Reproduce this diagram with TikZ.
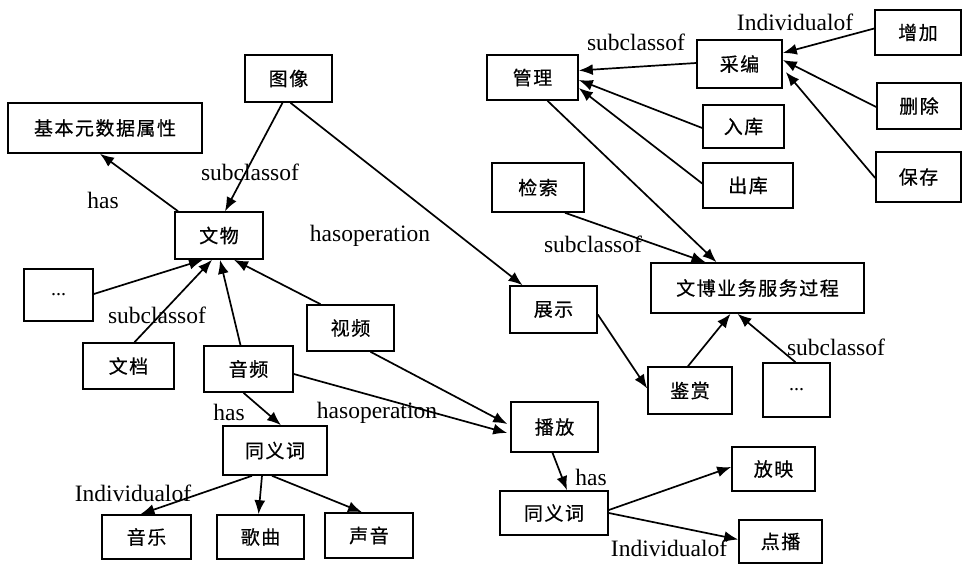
\documentclass[tikz,border=0pt]{standalone}
\usepackage{fontspec}
\setmainfont{Liberation Serif}
\newfontfamily\cjk[LetterSpace=8,FakeBold=0.5]{Noto Sans CJK SC}
\usetikzlibrary{arrows.meta,calc}
\tikzset{
  box/.style={draw, line width=1.6pt, inner sep=0pt, font=\cjk\fontsize{19}{21}\selectfont},
  lbl/.style={font=\fontsize{23.5}{26}\selectfont, inner sep=0pt},
  arr/.style={line width=1.7pt, -{Latex[length=14pt,width=11pt]}},
}
\newcommand{\bx}[6]{\node[box, minimum width=#4pt, minimum height=#5pt] (#1) at (#2,#3) {#6};}
\begin{document}
\begin{tikzpicture}[x=1pt,y=-1pt]
\useasboundingbox (0,0) rectangle (963,565);
% nodes
\bx{jiben}{105}{128}{194}{50}{基本元数据属性}
\bx{tuxiang}{288.5}{78.5}{87}{47}{图像}
\bx{wenwu}{219}{235.5}{88}{47}{文物}
\bx{dotsL}{58.5}{295}{69}{52}{\rmfamily\fontsize{20}{22}\selectfont ...}
\bx{wendang}{128.5}{366}{91}{46}{文档}
\bx{yinpin}{248.5}{369}{89}{46}{音频}
\bx{shipin}{350.5}{328}{87}{46}{视频}
\bx{tyca}{275}{450.5}{104}{49}{同义词}
\bx{yinyue}{146.5}{537}{89}{44}{音乐}
\bx{gequ}{260.5}{537}{87}{44}{歌曲}
\bx{shengyin}{369}{535.5}{88}{45}{声音}
\bx{zhanshi}{553.5}{309.5}{87}{47}{展示}
\bx{bofang}{554.5}{427}{87}{50}{播放}
\bx{tycb}{554}{513}{108}{44}{同义词}
\bx{wenbo}{757.5}{288}{213}{50}{文博业务服务过程}
\bx{jianshang}{690}{390.5}{84}{47}{鉴赏}
\bx{dotsR}{796.5}{390}{67}{54}{\rmfamily\fontsize{20}{22}\selectfont ...}
\bx{fangying}{773.5}{469}{83}{44}{放映}
\bx{dianbo}{780.5}{541.5}{83}{43}{点播}
\bx{guanli}{532.5}{77.5}{91}{45}{管理}
\bx{jiansuo}{538}{187.5}{92}{49}{检索}
\bx{caibian}{739.5}{64}{85}{48}{采编}
\bx{ruku}{743.5}{126.5}{81}{43}{入库}
\bx{chuku}{748}{185.5}{90}{45}{出库}
\bx{zengjia}{918}{32.5}{86}{45}{增加}
\bx{shanchu}{919}{106}{84}{46}{删除}
\bx{baocun}{918.5}{177}{85}{50}{保存}
% labels
\node[lbl] (l1) at (103,200) {has};
\node[lbl] (l2) at (250,172) {subclassof};
\node[lbl] (l3) at (370,236) {hasoperation};
\node[lbl] (l4) at (157,315) {subclassof};
\node[lbl] (l5) at (229,412) {has};
\node[lbl] (l6) at (377,413) {hasoperation};
\node[lbl] (l7) at (133,493) {Individualof};
\node[lbl] (l8) at (591,477) {has};
\node[lbl] (l9) at (669,548) {Individualof};
\node[lbl] (l10) at (836,347) {subclassof};
\node[lbl] (l11) at (593,244) {subclassof};
\node[lbl] (l12) at (636,42) {subclassof};
\node[lbl] (l13) at (795,22) {Individualof};
% edges
\draw[arr] ($(wenwu.north)+(-41,0)$) -- ($(jiben.south)+(-5,0)$);
\draw[arr] ($(tuxiang.south)+(-6,0)$) -- ($(wenwu.north)+(6,0)$);
\draw[arr] ($(tuxiang.south)+(2,0)$) -- ($(zhanshi.north)+(-31,0)$);
\draw[arr] ($(dotsL.east)+(0,-1)$) -- ($(wenwu.south)+(-16,0)$);
\draw[arr] ($(wendang.north)+(6,0)$) -- ($(wenwu.south)+(-7,0)$);
\draw[arr] ($(yinpin.north)+(-8,0)$) -- ($(wenwu.south)+(1,0)$);
\draw[arr] ($(shipin.north)+(-30,0)$) -- ($(wenwu.south)+(15,0)$);
\draw[arr] ($(yinpin.south)+(-5,0)$) -- ($(tyca.north)+(6,0)$);
\draw[arr] ($(yinpin.east)+(0,5)$) -- ($(bofang.west)+(-3,6)$);
\draw[arr] ($(shipin.south)+(20,0)$) -- ($(bofang.west)+(-3,-3)$);
\draw[arr] ($(tyca.south)+(-23,0)$) -- ($(yinyue.north)+(-6,0)$);
\draw[arr] ($(tyca.south)+(-13,0)$) -- ($(gequ.north)+(-2,0)$);
\draw[arr] ($(tyca.south)+(-3,0)$) -- ($(shengyin.north)+(-7,0)$);
\draw[arr] ($(zhanshi.east)+(0,5)$) -- ($(jianshang.west)+(0,-2)$);
\draw[arr] ($(bofang.south)+(-2,0)$) -- ($(tycb.north)+(13,0)$);
\draw[arr] ($(tycb.east)+(0,-3)$) -- ($(fangying.west)+(0,-2)$);
\draw[arr] (tycb.east) -- ($(dianbo.west)+(0,-2)$);
\draw[arr] ($(jianshang.north)+(-2,0)$) -- ($(wenbo.south)+(-27,0)$);
\draw[arr] ($(dotsR.north)+(-1,0)$) -- ($(wenbo.south)+(-20,0)$);
\draw[arr] ($(guanli.south)+(15,0)$) -- ($(wenbo.north)+(-41,0)$);
\draw[arr] ($(jiansuo.south)+(27,0)$) -- ($(wenbo.north)+(-52,0)$);
\draw[arr] ($(caibian.west)+(0,-1)$) -- ($(guanli.east)+(0,-7)$);
\draw[arr] ($(ruku.west)+(0,1.5)$) -- ($(guanli.east)+(0,2.5)$);
\draw[arr] ($(chuku.west)+(0,-2)$) -- ($(guanli.east)+(0,10.5)$);
\draw[arr] ($(zengjia.west)+(0,-4)$) -- ($(caibian.east)+(0,-11)$);
\draw[arr] ($(shanchu.west)+(0,1)$) -- ($(caibian.east)+(0,-4)$);
\draw[arr] ($(baocun.west)+(0,1)$) -- ($(caibian.east)+(3,8)$);
\end{tikzpicture}
\end{document}
